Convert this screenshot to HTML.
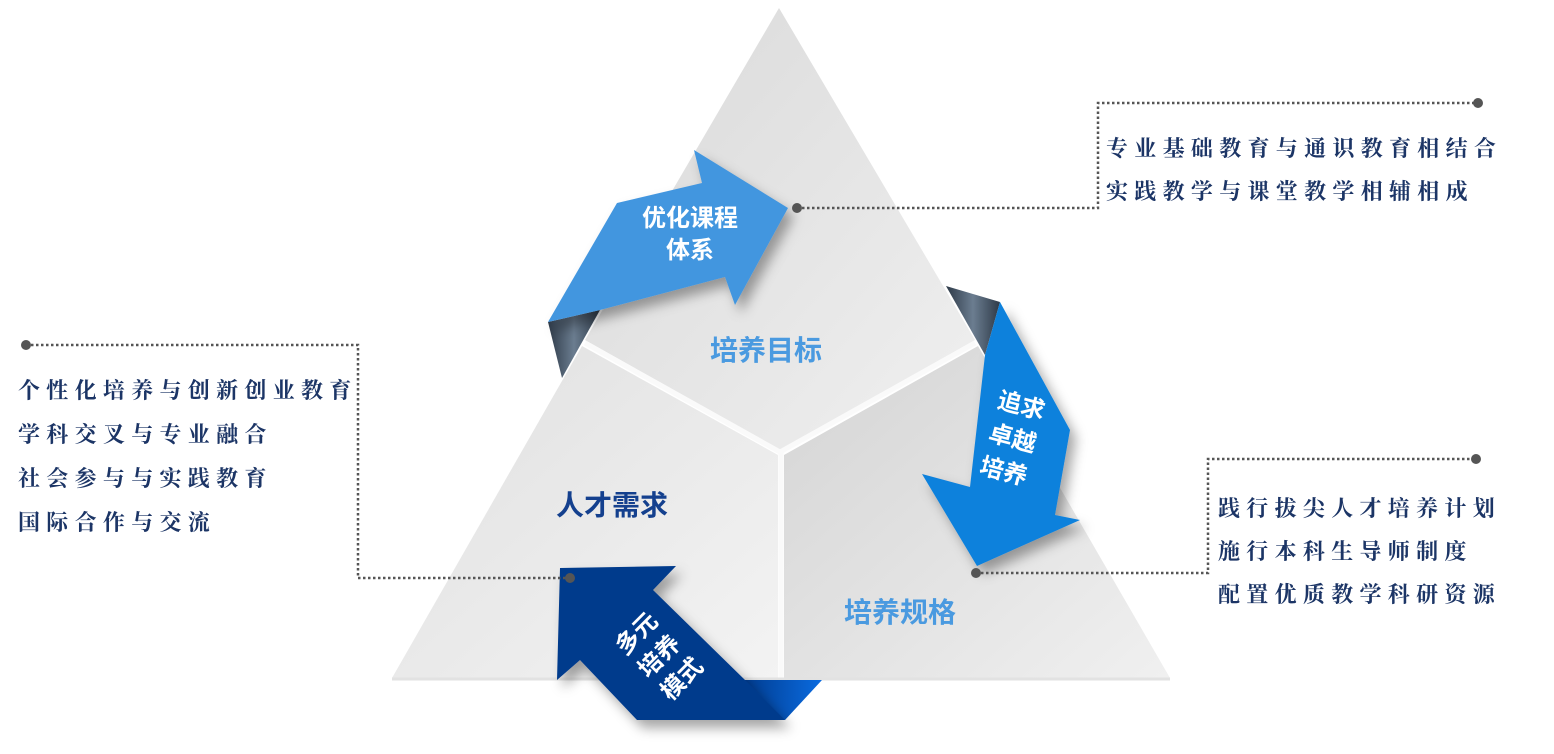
<!DOCTYPE html>
<html><head><meta charset="utf-8"><style>
html,body{margin:0;padding:0;background:#fff;}
svg{display:block}
.l{font-family:"Liberation Serif","Noto Serif CJK SC",serif;font-size:22px;font-weight:bold;fill:#1c3566;letter-spacing:6.3px}
.s{font-family:"Liberation Sans","Noto Sans CJK SC",sans-serif;font-weight:bold}
</style></head><body>
<svg width="1554" height="754" viewBox="0 0 1554 754" xmlns="http://www.w3.org/2000/svg">
<defs>
<linearGradient id="gt" x1="0" y1="0" x2="1" y2="1"><stop offset="0" stop-color="#d9d9d9"/><stop offset="1" stop-color="#f0f0f0"/></linearGradient>
<linearGradient id="gl" x1="0" y1="0" x2="1" y2="1"><stop offset="0" stop-color="#e0e0e0"/><stop offset="1" stop-color="#f3f3f3"/></linearGradient>
<linearGradient id="gr" x1="0" y1="0" x2="1" y2="1"><stop offset="0" stop-color="#d4d4d4"/><stop offset="1" stop-color="#f0f0f0"/></linearGradient>
<linearGradient id="gd" x1="0" y1="0" x2="1" y2="0"><stop offset="0" stop-color="#2e3a48"/><stop offset="0.5" stop-color="#6b7d90"/><stop offset="1" stop-color="#2e3a48"/></linearGradient>
<linearGradient id="gb" x1="0" y1="0" x2="1" y2="0"><stop offset="0" stop-color="#003a8c"/><stop offset="1" stop-color="#0a6be0"/></linearGradient>
<filter id="sh" x="-20%" y="-20%" width="140%" height="140%"><feDropShadow dx="6" dy="8" stdDeviation="6" flood-color="#000" flood-opacity="0.35"/></filter>
</defs>
<polygon points="779,8 975,340 780,450 585,340" fill="url(#gt)"/>
<polygon points="582,346 778,455 778,678 392,678" fill="url(#gl)"/>
<polygon points="978,346 1170,678 784,678 784,455" fill="url(#gr)"/>
<polyline points="585,343 780,452 975,343" fill="none" stroke="#fafafa" stroke-width="5"/>
<line x1="781" y1="452" x2="781" y2="678" stroke="#fafafa" stroke-width="5"/>
<line x1="392" y1="679" x2="1170" y2="679" stroke="#e2e2e2" stroke-width="3"/>
<polygon points="548,322 600,310 562,378" fill="url(#gd)"/>
<polygon points="946,286 1000,302 985,355" fill="url(#gd)"/>
<polygon points="740,680 822,680 785,720 760,705" fill="url(#gb)"/>
<polygon points="548,322 617,203 702,183 694,150 788,208 735,305 725,277 600,310" fill="#4396df" filter="url(#sh)"/>
<polygon points="1000,302 1070,430 1055,515 1080,520 977,566 922,474 970,487 985,355" fill="#1181dc" filter="url(#sh)"/>
<polygon points="560,568 676,566 653,590 745,680 785,720 637,720 580,660 557,680" fill="#003a8c" filter="url(#sh)"/>
<g class="s" fill="#fff" font-size="24" text-anchor="middle">
<text x="690" y="226">优化课程</text><text x="690" y="258">体系</text>
<g transform="rotate(15 1010 440)"><text x="1012" y="412">追求</text><text x="1012" y="446">卓越</text><text x="1012" y="480">培养</text></g>
<g transform="rotate(-45 665 662)"><text x="665" y="630">多元</text><text x="665" y="662">培养</text><text x="665" y="694">模式</text></g>
</g>
<text class="s" x="766" y="360" font-size="28" fill="#4a9ae0" text-anchor="middle" font-weight="normal">培养目标</text>
<text class="s" x="612" y="515" font-size="28" fill="#14408e" text-anchor="middle">人才需求</text>
<text class="s" x="900" y="622" font-size="28" fill="#4a9ae0" text-anchor="middle" font-weight="normal">培养规格</text>
<g fill="none" stroke="#555" stroke-width="2.5" stroke-dasharray="2.5 2.5">
<polyline points="797,208 1098,208 1098,103 1478,103"/>
<polyline points="26,345 358,345 358,578 570,578"/>
<polyline points="976,573 1208,573 1208,459 1476,459"/>
</g>
<g fill="#555">
<circle cx="797" cy="208" r="5"/><circle cx="1478" cy="103" r="5"/>
<circle cx="26" cy="345" r="5"/><circle cx="570" cy="578" r="5"/>
<circle cx="976" cy="573" r="5"/><circle cx="1476" cy="459" r="5"/>
</g>
<text class="l" x="1106" y="156">专业基础教育与通识教育相结合</text>
<text class="l" x="1106" y="199">实践教学与课堂教学相辅相成</text>
<text class="l" x="18" y="398">个性化培养与创新创业教育</text>
<text class="l" x="18" y="442">学科交叉与专业融合</text>
<text class="l" x="18" y="486">社会参与与实践教育</text>
<text class="l" x="18" y="530">国际合作与交流</text>
<text class="l" x="1218" y="516">践行拔尖人才培养计划</text>
<text class="l" x="1218" y="559">施行本科生导师制度</text>
<text class="l" x="1218" y="602">配置优质教学科研资源</text>
</svg>
</body></html>
